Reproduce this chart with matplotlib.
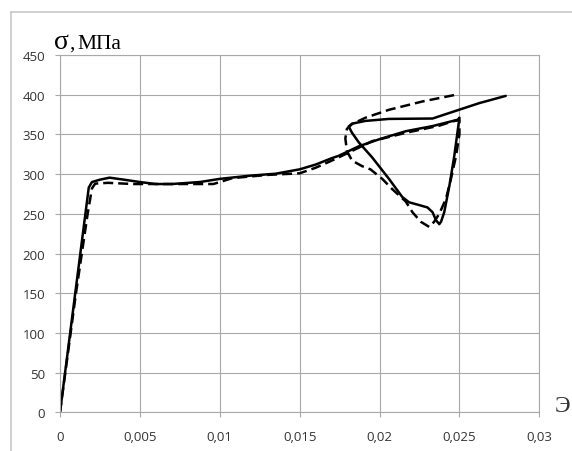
import matplotlib
matplotlib.use("Agg")
import matplotlib.pyplot as plt
from matplotlib.lines import Line2D
from matplotlib.ticker import FixedLocator, FixedFormatter

# ---- data (strain, stress MPa) ----
solid_strain = [0, 0.00180, 0.00200, 0.00250, 0.00310, 0.00400, 0.00500, 0.00600,
                0.00700, 0.00875, 0.01000, 0.01190, 0.01350, 0.01500, 0.01600,
                0.01700, 0.01744, 0.01870, 0.02000, 0.02164, 0.02332, 0.02490,
                0.02500, 0.02490, 0.02468, 0.02437, 0.02405, 0.02385, 0.02374,
                0.02353, 0.02332, 0.02300, 0.02248, 0.02185, 0.02143, 0.02059,
                0.01954, 0.01870, 0.01828, 0.01807, 0.01828, 0.01912, 0.02059,
                0.02332, 0.02437, 0.02626, 0.02790]
solid_stress = [0, 283, 290, 293, 295.5, 293, 290, 287.5,
                287.5, 290, 294, 298, 300.5, 306, 312,
                320, 323, 335, 344, 354, 360.5, 368.5,
                371, 356, 323, 285, 252, 240, 237,
                242, 252, 258, 261, 264.5, 271, 294,
                321, 340, 352, 360, 363.5, 367, 369.5,
                370, 377, 389.5, 398.5]

dashed_strain = [0, 0.0010, 0.00173, 0.00200, 0.00220, 0.00300, 0.00458, 0.00700,
                 0.00960, 0.01080, 0.01300, 0.01500, 0.01600, 0.01690, 0.01744,
                 0.01954, 0.02164, 0.02374, 0.02458, 0.02500, 0.02500, 0.02479,
                 0.02447, 0.02416, 0.02374, 0.02342, 0.02311, 0.02258, 0.02206,
                 0.02164, 0.02080, 0.02017, 0.01943, 0.01891, 0.01828, 0.01796,
                 0.01786, 0.01796, 0.01828, 0.01912, 0.02059, 0.02269, 0.02479]
dashed_stress = [0, 150, 250, 282, 288, 289, 287.5, 287.5,
                 287.5, 295, 299, 301, 308, 316, 321,
                 341.5, 352, 361, 366.5, 368, 350, 323,
                 294, 269, 250, 240, 233.5, 240, 252,
                 265.5, 281, 294, 306, 310, 317, 329,
                 345, 357, 363, 371, 381, 391.5, 400]

x_ticks = [0, 0.005, 0.01, 0.015, 0.02, 0.025, 0.03]
x_tick_labels = ["0", "0,005", "0,01", "0,015", "0,02", "0,025", "0,03"]
y_ticks = [0, 50, 100, 150, 200, 250, 300, 350, 400, 450]
y_tick_labels = [str(v) for v in y_ticks]

W, H = 572, 452
fig = plt.figure(figsize=(W / 100, H / 100), dpi=100)
fig.patch.set_facecolor("white")
ax = fig.add_axes([60 / W, 1 - 413.3 / H, (539.3 - 60) / W, (413.3 - 56) / H])

grid_c = "#a8a8a8"
ax.set_xlim(0, 0.03)
ax.set_ylim(0, 450)
ax.xaxis.set_major_locator(FixedLocator(x_ticks))
ax.xaxis.set_major_formatter(FixedFormatter(x_tick_labels))
ax.yaxis.set_major_locator(FixedLocator(y_ticks))
ax.yaxis.set_major_formatter(FixedFormatter(y_tick_labels))
ax.grid(True, color=grid_c, linewidth=0.8)
ax.set_axisbelow(True)
for s in ax.spines.values():
    s.set_color(grid_c)
    s.set_linewidth(0.8)
ax.tick_params(axis="both", direction="out", length=3.6, width=0.8, color=grid_c,
               labelcolor="#333333", labelsize=9.5)
ax.tick_params(axis="x", pad=9.5)
ax.tick_params(axis="y", pad=7)
for lab in ax.get_xticklabels() + ax.get_yticklabels():
    lab.set_family(["Open Sans", "DejaVu Sans"])

ax.plot(solid_strain, solid_stress, color="black", linewidth=1.8,
        solid_joinstyle="round", solid_capstyle="round")
ax.plot(dashed_strain, dashed_stress, color="black", linewidth=1.8,
        linestyle=(0, (4.0, 2.0)), dash_joinstyle="round")

# titles
serif = ["Liberation Serif", "DejaVu Serif"]
base_y = 1 - 49 / H
fig.text(54.5 / W, base_y, "σ", family=serif, fontsize=20,
         ha="left", va="baseline", color="black")
fig.text(69.5 / W, base_y, ",", family=serif, fontsize=15.5,
         ha="left", va="baseline", color="black")
fig.text(77 / W, base_y, "МПа", family=serif, fontsize=15.5,
         ha="left", va="baseline", color="black")
fig.text(555 / W, 1 - 412 / H, "Э", family=serif, fontsize=17,
         ha="left", va="baseline", color="#333333")

# outer chart frame (partly cut off)
fig.add_artist(Line2D([10.5 / W, 1.0], [1 - 13 / H, 1 - 13 / H], color="#c8c8c8",
                      linewidth=1.2, transform=fig.transFigure))
fig.add_artist(Line2D([11 / W, 11 / W], [0, 1 - 13 / H], color="#c8c8c8",
                      linewidth=1.2, transform=fig.transFigure))

fig.savefig("out.png", dpi=100, facecolor="white")
